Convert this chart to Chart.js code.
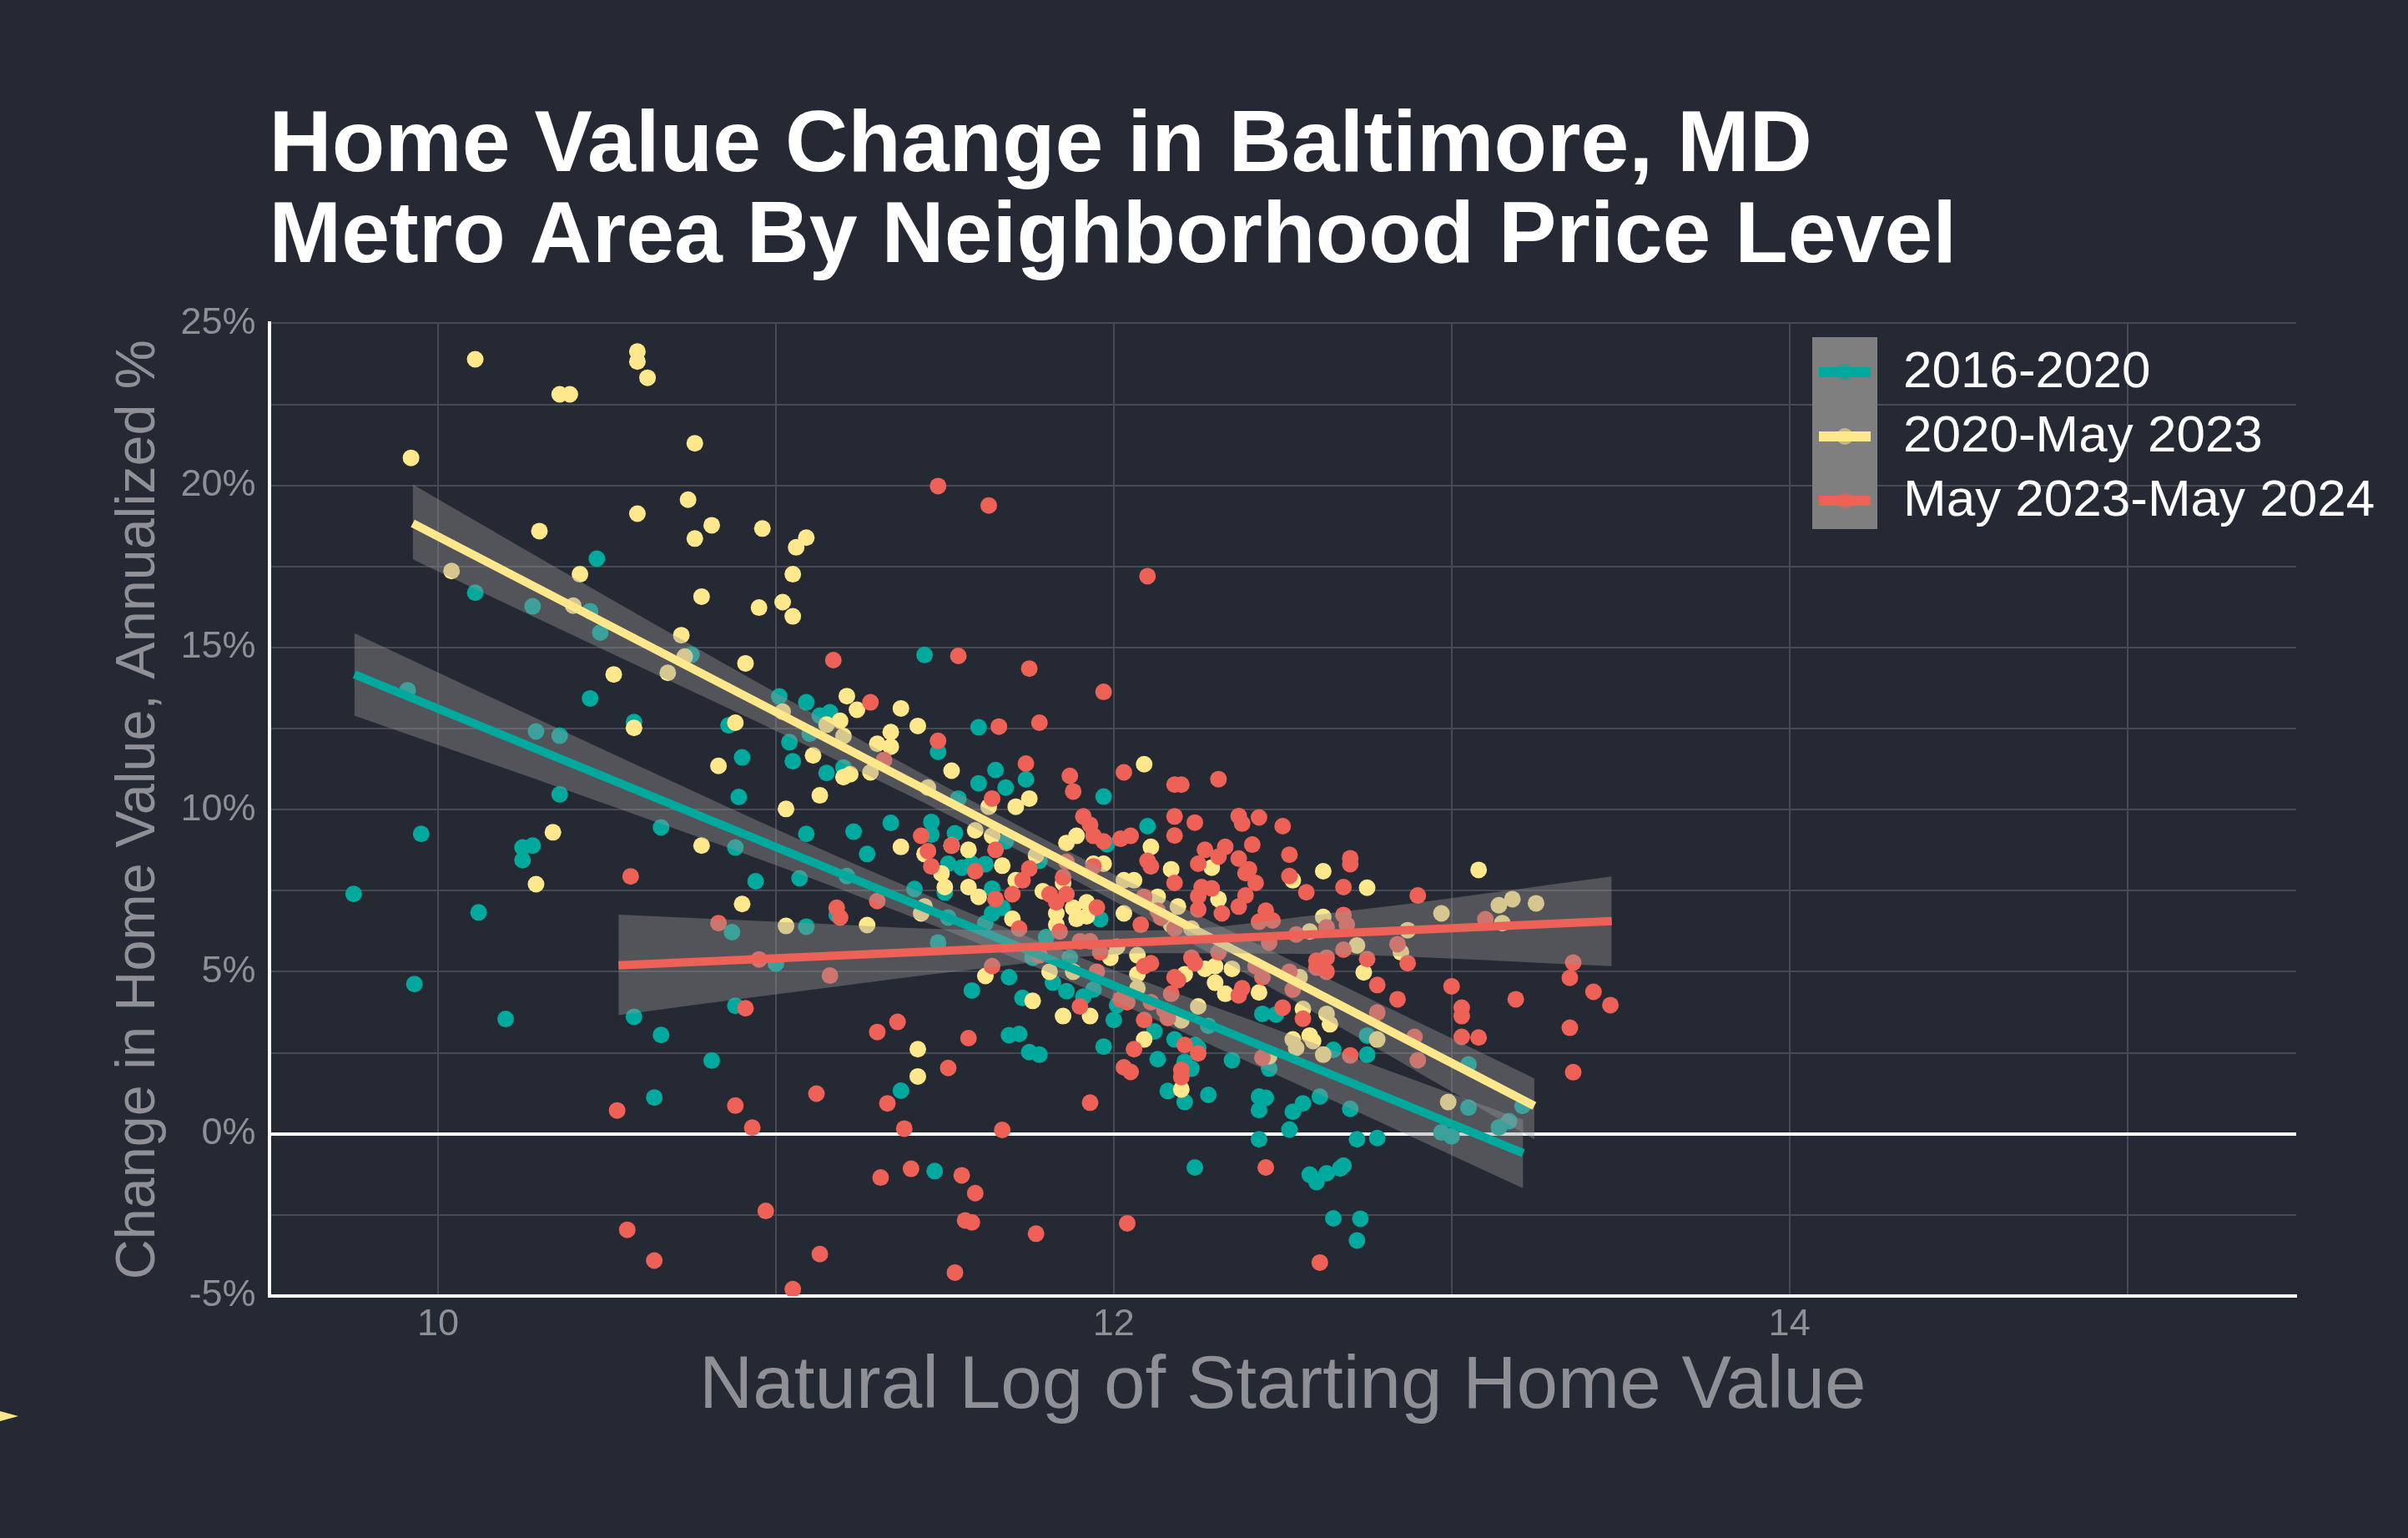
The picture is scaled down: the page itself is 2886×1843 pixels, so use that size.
<!DOCTYPE html>
<html>
<head>
<meta charset="utf-8">
<script src="https://cdn.jsdelivr.net/npm/chart.js@4.4.1/dist/chart.umd.min.js"></script>
<style>
html,body{margin:0;padding:0;background:#252933;}
#wrap{position:relative;width:2886px;height:1843px;}
</style>
</head>
<body>
<div id="wrap"><canvas id="c"></canvas></div>
<script>
const titleLines = ['Home Value Change in Baltimore, MD', 'Metro Area By Neighborhood Price Level'];
const xAxisTitle = 'Natural Log of Starting Home Value';
const yAxisTitle = 'Change in Home Value, Annualized %';
const seriesLabels = ['2016-2020', '2020-May 2023', 'May 2023-May 2024'];
const seriesColors = ['#00a99d', '#ffe88b', '#ee6156'];
const xGridValues = [10, 11, 12, 13, 14, 15];
const xTickLabels = [10, 12, 14];
const yGridValues = [-5, -2.5, 0, 2.5, 5, 7.5, 10, 12.5, 15, 17.5, 20, 22.5, 25];
const yTickLabels = [-5, 0, 5, 10, 15, 20, 25];

// 2016-2020 : [log start value, annualized change %]
const period1Points = [
[10.47,17.74],[10.11,16.69],[10.28,16.27],[10.45,16.12],[10.48,15.46],[10.75,14.78],[9.91,13.68],[10.45,13.43],[10.29,12.41],[10.36,12.28],
[10.58,12.70],[10.86,12.60],[11.01,13.49],[11.09,13.31],[11.13,12.90],[11.16,13.00],[11.10,12.34],[11.04,12.08],[10.90,11.61],[11.05,11.49],
[11.15,11.13],[10.36,10.47],[10.89,10.39],[10.66,9.45],[11.09,9.25],[9.95,9.25],[10.25,8.83],[10.28,8.89],[10.25,8.44],[9.75,7.40],
[10.12,6.83],[9.93,4.62],[10.20,3.54],[10.58,3.61],[10.66,3.05],[10.81,2.26],[10.64,1.12],[10.87,6.22],[10.88,8.83],[10.94,7.79],
[11.07,7.88],[11.09,6.39],[11.00,5.25],[10.88,3.95],[11.18,6.76],[11.44,14.77],[11.60,12.54],[11.48,11.78],[11.65,11.22],[11.60,10.81],
[11.68,10.68],[11.74,10.93],[11.20,11.30],[11.54,10.34],[11.23,9.32],[11.34,9.59],[11.27,8.63],[11.46,9.62],[11.46,9.23],[11.53,9.27],
[11.51,8.33],[11.55,8.21],[11.58,8.33],[11.62,8.32],[11.64,7.56],[11.50,7.44],[11.67,6.97],[11.64,6.80],[11.68,9.02],[11.78,8.42],
[11.41,7.55],[11.21,7.95],[12.10,9.49],[11.98,8.93],[11.96,6.62],[11.51,6.67],[11.62,6.50],[11.48,5.90],[11.80,6.07],[11.69,4.83],
[11.58,4.42],[11.73,4.19],[11.82,4.66],[11.86,4.40],[11.91,4.23],[11.94,4.45],[12.01,3.97],[12.00,3.51],[11.69,3.04],[11.72,3.08],
[11.75,2.52],[11.78,2.44],[11.97,2.69],[11.76,5.43],[11.87,5.43],[12.12,3.16],[12.13,2.30],[11.97,10.40],[11.37,1.33],[11.47,-1.15],
[12.44,3.70],[12.48,3.68],[12.28,3.33],[12.18,2.91],[12.24,2.74],[12.25,2.65],[12.21,2.22],[12.23,2.01],[12.35,2.27],[12.46,2.01],
[12.65,2.59],[12.75,2.44],[12.75,3.03],[13.05,2.14],[12.16,1.32],[12.21,0.98],[12.28,1.20],[12.43,1.15],[12.45,1.11],[12.43,0.73],
[12.53,0.68],[12.56,0.94],[12.61,1.15],[12.70,0.77],[13.05,0.81],[12.52,0.13],[12.43,-0.17],[12.72,-0.17],[12.78,-0.13],[12.97,0.04],
[13.00,-0.08],[13.14,0.20],[12.24,-1.04],[12.58,-1.26],[12.60,-1.49],[12.63,-1.22],[12.67,-1.07],[12.68,-0.98],[12.65,-2.61],[12.73,-2.62],
[12.72,-3.29],[13.21,0.86],[13.17,0.39]
];

// 2020-May 2023
const period2Points = [
[10.11,23.89],[10.59,24.13],[10.59,23.82],[10.62,23.32],[10.36,22.81],[10.39,22.81],[9.92,20.85],[10.76,21.30],[10.74,19.56],[10.59,19.13],
[10.30,18.59],[10.81,18.77],[10.76,18.36],[10.96,18.67],[11.09,18.39],[11.06,18.09],[11.05,17.26],[10.42,17.26],[10.04,17.36],[10.40,16.29],
[10.78,16.57],[10.95,16.23],[11.02,16.40],[11.05,15.96],[10.72,15.38],[10.73,14.72],[10.68,14.22],[10.91,14.51],[10.52,14.17],[10.58,12.52],
[10.88,12.68],[10.83,11.35],[11.02,13.02],[11.15,12.62],[11.11,11.67],[11.13,10.44],[11.03,10.02],[10.34,9.30],[10.29,7.70],[10.78,8.89],
[10.90,7.09],[11.03,6.41],[11.21,13.50],[11.24,13.08],[11.37,13.12],[11.19,12.74],[11.42,12.58],[11.34,12.39],[11.30,12.03],[11.34,11.94],
[11.22,11.09],[11.20,11.00],[11.52,11.20],[12.09,11.40],[11.75,10.34],[11.20,12.27],[11.28,11.15],[11.45,10.68],[11.37,8.85],[11.44,8.63],
[11.52,8.89],[11.57,8.76],[11.49,8.03],[11.50,7.61],[11.57,7.61],[11.60,7.31],[11.67,8.27],[11.71,7.82],[11.27,6.44],[11.43,6.80],
[11.44,7.01],[11.70,6.63],[11.83,6.45],[11.71,10.09],[11.63,10.09],[11.59,9.36],[11.64,9.19],[11.86,8.97],[11.89,9.19],[11.77,8.59],
[11.79,7.48],[11.85,7.74],[11.88,6.97],[11.89,6.63],[11.92,7.14],[11.92,6.71],[11.83,6.80],[11.94,8.33],[11.97,8.33],[12.03,7.82],
[12.06,7.82],[12.03,6.80],[12.11,8.85],[12.13,7.31],[12.17,8.16],[11.81,5.00],[11.88,5.00],[11.62,4.87],[11.76,4.10],[11.85,3.63],
[11.93,3.63],[12.07,4.49],[12.07,4.92],[12.09,2.91],[11.99,5.43],[12.01,5.77],[12.07,5.51],[11.42,2.61],[12.19,7.01],[11.42,1.77],
[12.29,8.21],[12.53,7.82],[12.62,8.10],[12.75,7.59],[13.08,8.14],[12.31,7.24],[12.62,6.69],[12.97,6.80],[12.87,6.28],[12.58,6.24],
[12.72,5.81],[12.17,6.45],[12.23,6.33],[12.21,4.92],[12.27,5.09],[12.30,5.17],[12.30,4.66],[12.33,4.32],[12.35,5.09],[12.43,4.36],
[12.25,3.93],[12.20,3.50],[12.56,3.85],[12.63,3.70],[12.64,3.38],[12.53,2.91],[12.58,3.03],[12.59,2.86],[12.54,2.65],[12.62,2.44],
[12.46,2.39],[12.74,4.98],[12.78,2.91],[12.99,0.98],[12.20,1.37],[12.55,4.83],[12.85,5.60],[13.18,7.24],[13.25,7.11],[13.14,7.05],
[13.15,6.50]
];

// May 2023-May 2024
const period3Points = [
[11.17,14.61],[10.57,7.94],[10.83,6.50],[10.95,5.38],[11.16,4.88],[11.18,6.97],[10.91,3.87],[10.53,0.72],[10.88,0.87],[10.93,0.19],
[11.12,1.24],[10.97,-2.38],[10.56,-2.96],[10.64,-3.91],[11.13,-3.71],[11.05,-4.79],[11.48,19.98],[11.63,19.38],[12.10,17.20],[11.54,14.74],
[11.75,14.35],[11.97,13.63],[11.28,13.31],[11.66,12.56],[11.78,12.68],[11.48,12.12],[11.32,11.53],[11.74,11.42],[11.87,11.04],[11.88,10.56],
[12.03,11.15],[11.64,10.34],[11.43,9.19],[11.45,8.72],[11.46,8.25],[11.52,8.89],[11.65,8.76],[11.59,8.10],[11.65,7.24],[11.70,7.39],
[11.73,7.82],[11.75,8.18],[11.30,7.18],[11.19,6.67],[11.72,6.33],[11.84,6.24],[11.86,8.39],[11.85,7.91],[11.94,8.25],[11.91,9.79],
[11.93,9.53],[11.94,9.19],[11.97,9.02],[12.02,9.10],[12.05,9.19],[11.81,7.39],[11.83,7.14],[11.86,7.39],[11.95,6.98],[12.09,7.31],
[12.10,8.42],[12.11,8.25],[12.13,6.88],[12.14,6.67],[12.08,6.45],[12.18,9.79],[12.18,9.20],[12.18,7.74],[11.64,5.17],[11.78,5.51],
[11.90,5.94],[11.93,5.94],[11.96,5.60],[11.95,5.00],[12.09,5.17],[12.11,5.26],[12.17,4.32],[12.02,4.15],[12.04,4.06],[11.90,3.93],
[12.11,4.06],[12.15,3.81],[12.09,3.51],[12.16,3.57],[12.06,2.61],[11.30,3.14],[11.36,3.45],[11.57,2.95],[11.51,2.03],[11.33,0.94],
[11.38,0.16],[11.67,0.12],[12.03,2.05],[12.05,1.91],[11.93,0.96],[11.31,-1.35],[11.40,-1.08],[11.55,-1.28],[11.59,-1.83],[11.56,-2.67],
[11.58,-2.73],[11.77,-3.08],[12.04,-2.76],[11.53,-4.28],[12.18,10.77],[12.20,10.77],[12.31,10.94],[12.24,9.60],[12.37,9.80],[12.38,9.57],
[12.43,9.76],[12.50,9.49],[12.41,8.92],[12.27,8.76],[12.33,8.85],[12.31,8.55],[12.25,8.33],[12.37,8.49],[12.40,8.16],[12.39,8.04],
[12.42,7.74],[12.52,8.61],[12.70,8.50],[12.70,8.32],[12.52,7.95],[12.26,7.61],[12.29,7.57],[12.57,7.45],[12.68,7.61],[12.39,7.35],
[12.25,7.33],[12.25,6.92],[12.37,7.01],[12.32,6.80],[12.45,6.88],[12.90,7.35],[12.18,6.33],[12.43,6.54],[12.47,6.58],[12.68,6.75],
[12.63,6.37],[12.69,6.45],[12.54,6.15],[12.84,5.85],[13.10,6.62],[12.23,5.43],[12.24,5.26],[12.31,5.60],[12.18,4.83],[12.19,4.74],
[12.42,5.17],[12.44,4.83],[12.52,5.00],[12.53,4.45],[12.38,4.49],[12.37,4.27],[12.50,3.89],[12.56,3.55],[12.60,5.34],[12.63,5.43],
[12.63,5.00],[12.60,5.13],[12.75,5.39],[12.78,4.59],[12.84,4.15],[12.78,3.74],[12.87,5.26],[13.00,4.55],[13.03,3.89],[13.03,3.63],
[13.03,2.99],[13.08,2.97],[12.89,2.99],[12.90,2.27],[12.70,2.42],[12.44,2.35],[12.21,2.74],[12.25,2.48],[12.20,1.97],[12.20,1.75],
[12.46,5.90],[12.68,5.68],[12.45,-1.04],[12.61,-3.97],[13.36,5.28],[13.35,4.81],[13.42,4.38],[13.47,3.97],[13.19,4.15],[13.35,3.27],
[13.36,1.90]
];

// fitted trend lines
const fit1X = [9.752, 13.212], fit1Y = [14.17, -0.60];
const fit2X = [9.925, 13.245], fit2Y = [18.83, 0.86];
const fit3X = [10.534, 13.474], fit3Y = [5.20, 6.56];

// confidence bands
const band1X = [9.752, 10.5, 11.2, 11.8, 12.4, 13.212];
const band1Up = [15.44, 11.80, 8.47, 5.85, 3.53, 0.43];
const band1Lo = [12.90, 10.16, 7.51, 5.01, 2.21, -1.68];
const band2X = [9.925, 10.5, 11.1, 11.75, 12.4, 13.245];
const band2Up = [20.03, 16.56, 13.02, 9.33, 5.98, 1.71];
const band2Lo = [17.72, 14.88, 11.93, 8.57, 4.89, -0.17];
const band3X = [10.534, 11.0, 11.6, 12.1, 12.7, 13.474];
const band3Up = [6.76, 6.54, 6.29, 6.27, 6.88, 7.94];
const band3Lo = [3.66, 4.30, 5.09, 5.57, 5.52, 5.17];

const FONT = '"Liberation Sans", Arial, Helvetica, sans-serif';
const GREY_TEXT = '#8e9096';
const GRID = '#464a52';
const BAND_FILL = 'rgba(150,150,150,0.4)';

const toXY = (xs, ys) => xs.map((x, i) => ({x: x, y: ys[i]}));
const pairXY = arr => arr.map(p => ({x: p[0], y: p[1]}));

function scatterSet(label, pts, color, order) {
  return {type: 'scatter', label: label, data: pairXY(pts), backgroundColor: color,
    borderWidth: 0, pointRadius: 10, pointHoverRadius: 10, order: order};
}
function bandSets(xs, up, lo, order) {
  return [
    {type: 'line', label: 'band', data: toXY(xs, up), borderColor: 'rgba(0,0,0,0)', borderWidth: 0,
     pointRadius: 0, fill: '+1', backgroundColor: BAND_FILL, cubicInterpolationMode: 'monotone', order: order},
    {type: 'line', label: 'band', data: toXY(xs, lo), borderColor: 'rgba(0,0,0,0)', borderWidth: 0,
     pointRadius: 0, fill: false, cubicInterpolationMode: 'monotone', order: order}
  ];
}
function fitSet(xs, ys, color, order) {
  return {type: 'line', label: 'fit', data: toXY(xs, ys), borderColor: color, borderWidth: 10,
    borderCapStyle: 'butt', pointRadius: 0, fill: false, tension: 0, order: order};
}

const datasets = [
  scatterSet(seriesLabels[0], period1Points, seriesColors[0], 20),
  scatterSet(seriesLabels[1], period2Points, seriesColors[1], 19),
  scatterSet(seriesLabels[2], period3Points, seriesColors[2], 18),
  ...bandSets(band1X, band1Up, band1Lo, 17),
  fitSet(fit1X, fit1Y, seriesColors[0], 15),
  ...bandSets(band2X, band2Up, band2Lo, 14),
  fitSet(fit2X, fit2Y, seriesColors[1], 13),
  ...bandSets(band3X, band3Up, band3Lo, 12),
  fitSet(fit3X, fit3Y, seriesColors[2], 11)
];

const bgPlugin = {
  id: 'bg',
  beforeDraw(chart) {
    const c = chart.ctx;
    c.save();
    c.fillStyle = '#252933';
    c.fillRect(0, 0, chart.width, chart.height);
    c.restore();
  }
};

const keyPlugin = {
  id: 'keyLegend',
  afterDraw(chart) {
    const ctx = chart.ctx;
    const boxX = 2172, boxY = 404, boxW = 78, boxH = 230;
    const rowY0 = 446, rowStep = 77;
    ctx.save();
    ctx.fillStyle = '#7f7f7f';
    ctx.fillRect(boxX, boxY, boxW, boxH);
    seriesLabels.forEach((lab, i) => {
      const cy = rowY0 + i * rowStep;
      ctx.globalAlpha = 0.55;
      ctx.fillStyle = seriesColors[i];
      ctx.beginPath();
      ctx.arc(boxX + 39, cy, 10, 0, Math.PI * 2);
      ctx.fill();
      ctx.globalAlpha = 1;
      ctx.strokeStyle = seriesColors[i];
      ctx.lineWidth = 12;
      ctx.lineCap = 'butt';
      ctx.beginPath();
      ctx.moveTo(boxX + 8, cy);
      ctx.lineTo(boxX + 70, cy);
      ctx.stroke();
      ctx.fillStyle = '#ffffff';
      ctx.font = '62px ' + FONT;
      ctx.textAlign = 'left';
      ctx.textBaseline = 'middle';
      ctx.fillText(lab, 2281, cy + 1);
    });
    // small marker at the lower-left edge, as in the source image
    ctx.fillStyle = seriesColors[1];
    ctx.beginPath();
    ctx.moveTo(0, 1691);
    ctx.lineTo(22, 1697);
    ctx.lineTo(0, 1703);
    ctx.closePath();
    ctx.fill();
    ctx.restore();
  }
};

new Chart(document.getElementById('c'), {
  type: 'scatter',
  data: {datasets: datasets},
  plugins: [bgPlugin, keyPlugin],
  options: {
    responsive: true,
    maintainAspectRatio: false,
    devicePixelRatio: 1,
    animation: false,
    events: [],
    layout: {padding: {left: 40, right: 134, top: 0, bottom: 140}},
    plugins: {
      legend: {display: false},
      tooltip: {enabled: false},
      title: {
        display: true, text: titleLines, align: 'start', fullSize: false,
        color: '#ffffff',
        font: {family: FONT, size: 104, weight: 'bold', lineHeight: 1.05},
        padding: {top: 122, bottom: 47}
      }
    },
    scales: {
      x: {
        type: 'linear', min: 9.5, max: 15.5,
        afterBuildTicks: ax => { ax.ticks = xGridValues.map(v => ({value: v})); },
        ticks: {
          autoSkip: false, maxRotation: 0, padding: 8, color: GREY_TEXT,
          font: {family: FONT, size: 45},
          callback: v => xTickLabels.includes(v) ? String(v) : ''
        },
        grid: {color: GRID, lineWidth: 2, drawTicks: false},
        border: {display: true, color: '#ffffff', width: 4},
        title: {display: true, text: xAxisTitle, color: GREY_TEXT,
          font: {family: FONT, size: 89, lineHeight: 0.9}, padding: {top: 0, bottom: 0}}
      },
      y: {
        type: 'linear', min: -5, max: 25,
        afterBuildTicks: ax => { ax.ticks = yGridValues.map(v => ({value: v})); },
        ticks: {
          autoSkip: false, padding: 16, color: GREY_TEXT,
          font: {family: FONT, size: 45},
          callback: v => yTickLabels.includes(v) ? v + '%' : ''
        },
        grid: {
          color: c => (c.tick && c.tick.value === 0) ? '#ffffff' : GRID,
          lineWidth: c => (c.tick && c.tick.value === 0) ? 4 : 2,
          drawTicks: false
        },
        border: {display: true, color: '#ffffff', width: 4},
        title: {display: true, text: yAxisTitle, color: GREY_TEXT,
          font: {family: FONT, size: 66.5, lineHeight: 1.0}, padding: {top: 93, bottom: 1}}
      }
    }
  }
});
</script>
</body>
</html>
